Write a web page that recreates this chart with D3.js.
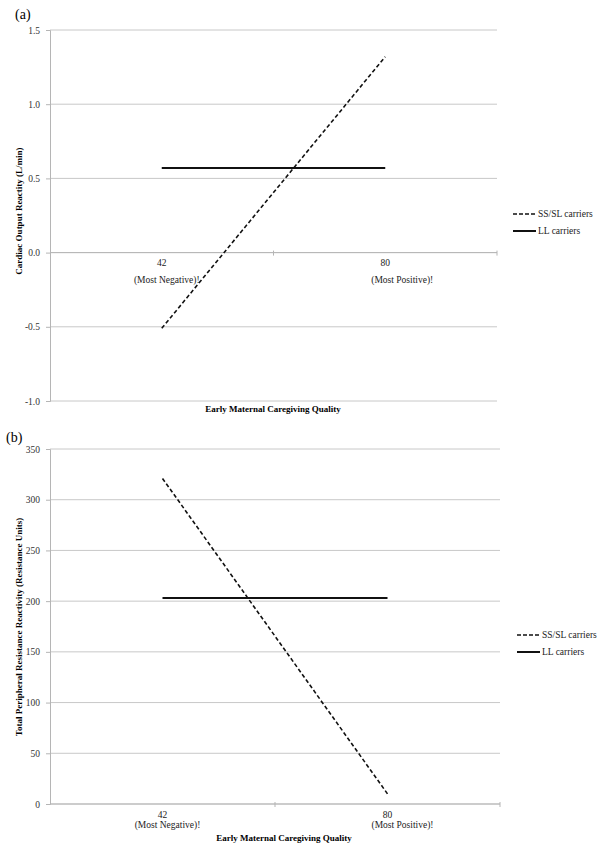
<!DOCTYPE html>
<html><head><meta charset="utf-8">
<script src="https://cdn.jsdelivr.net/npm/d3@7"></script>
<style>
body{margin:0;background:#fff;}
svg{display:block;font-family:"Liberation Serif","Times New Roman",serif;}
</style></head>
<body><svg id="c" width="601" height="850"></svg>
<script>
const categories = ["42", "80"];
const categorySub = ["(Most Negative)!", "(Most Positive)!"];
const seriesNames = ["SS/SL carriers", "LL carriers"];

const aTicks = [-1.0, -0.5, 0.0, 0.5, 1.0, 1.5];
const aSSSL = [-0.51, 1.32];
const aLL = [0.57, 0.57];

const bTicks = [0, 50, 100, 150, 200, 250, 300, 350];
const bSSSL = [321, 10];
const bLL = [203, 203];

const svg = d3.select("#c");
const FONT = '"Liberation Serif","Times New Roman",serif';

function panel(o) {
  const g = svg.append("g");
  const x = d3.scaleBand().domain(categories).range([o.x0, o.x1]).padding(0);
  const y = d3.scaleLinear().domain(o.domain).range([o.y1, o.y0]);
  g.selectAll(".grid").data(o.ticks).enter().append("line")
    .attr("x1", o.x0).attr("x2", o.x1)
    .attr("y1", d => y(d)).attr("y2", d => y(d))
    .attr("stroke", "#c8c8c8").attr("stroke-width", 1);
  const ya = g.append("g").attr("transform", `translate(${o.x0},0)`)
    .call(d3.axisLeft(y).tickValues(o.ticks).tickSize(4).tickPadding(6).tickFormat(o.fmt));
  ya.attr("font-family", FONT);
  ya.select(".domain").attr("stroke", "#b5b5b5");
  ya.selectAll(".tick line").attr("stroke", "#b5b5b5");
  ya.selectAll("text").attr("font-size", 9.5).attr("fill", "#333");
  const yc = y(o.cross);
  g.append("line").attr("x1", o.x0).attr("x2", o.x1).attr("y1", yc).attr("y2", yc)
    .attr("stroke", "#b5b5b5");
  const bounds = [x(categories[1]), o.x1];
  g.selectAll(".xt").data(bounds).enter().append("line")
    .attr("x1", d => d).attr("x2", d => d).attr("y1", yc - 2).attr("y2", yc + 3)
    .attr("stroke", "#b5b5b5");
  categories.forEach((c, i) => {
    const cx = x(c) + x.bandwidth() / 2;
    g.append("text").attr("x", cx).attr("y", yc + o.lab1).attr("text-anchor", "middle")
      .attr("font-size", 9.5).attr("fill", "#222").text(c);
    g.append("text").attr("x", cx + o.subOff[i]).attr("y", yc + o.lab2).attr("text-anchor", "middle")
      .attr("font-size", 9.5).attr("fill", "#222").text(categorySub[i]);
  });
  g.append("text").attr("x", o.xTitleX).attr("y", o.xTitleY).attr("text-anchor", "middle")
    .attr("font-size", 9).attr("font-weight", "bold").text("Early Maternal Caregiving Quality");
  g.append("text").attr("transform", `translate(${o.yTitleX},${o.yTitleY}) rotate(-90)`)
    .attr("text-anchor", "middle").attr("font-size", 9).attr("font-weight", "bold").text(o.yTitle);
  g.append("text").attr("x", o.labX).attr("y", o.labY).attr("font-size", 14).text(o.label);
  const line = d3.line().x((d, i) => x(categories[i]) + x.bandwidth() / 2).y(d => y(d));
  g.append("path").datum(o.ll).attr("d", line).attr("fill", "none")
    .attr("stroke", "#111").attr("stroke-width", 2);
  g.append("path").datum(o.ss).attr("d", line).attr("fill", "none")
    .attr("stroke", "#111").attr("stroke-width", 1.6).attr("stroke-dasharray", "4,2.5");
  const lg = g.append("g").attr("transform", `translate(${o.legX},${o.legY})`);
  seriesNames.forEach((s, i) => {
    const yy = i * 17;
    lg.append("line").attr("x1", 0).attr("x2", 23).attr("y1", yy).attr("y2", yy)
      .attr("stroke", "#111").attr("stroke-width", i === 0 ? 1.6 : 2)
      .attr("stroke-dasharray", i === 0 ? "4,2" : null);
    lg.append("text").attr("x", 25).attr("y", yy + 3).attr("font-size", 9.5).attr("fill", "#222").text(s);
  });
}

const fmtA = d => d3.format(".1f")(d).replace("\u2212", "-");

panel({
  x0: 50, x1: 497, y0: 30, y1: 401, domain: [-1.0, 1.5], ticks: aTicks, cross: 0,
  fmt: fmtA, ss: aSSSL, ll: aLL,
  lab1: 13, lab2: 30, subOff: [5, 17],
  xTitleX: 273, xTitleY: 412,
  yTitle: "Cardiac Output Reactity (L/min)", yTitleX: 22, yTitleY: 211,
  label: "(a)", labX: 15, labY: 19, legX: 513, legY: 214
});

panel({
  x0: 50, x1: 500, y0: 449, y1: 804, domain: [0, 350], ticks: bTicks, cross: 0,
  fmt: d3.format("d"), ss: bSSSL, ll: bLL,
  lab1: 14, lab2: 24, subOff: [5, 15],
  xTitleX: 284, xTitleY: 841,
  yTitle: "Total Peripheral Resistance Reactivity (Resistance Units)", yTitleX: 22, yTitleY: 627,
  label: "(b)", labX: 6, labY: 442, legX: 517, legY: 635
});
</script></body></html>
